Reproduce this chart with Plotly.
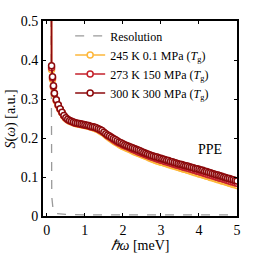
import plotly.graph_objects as go

# energy transfer grid (meV): a few points at the elastic line, then 0.05 meV steps
energy = [0.11, 0.125, 0.15, 0.175] + [round(0.2 + 0.05 * i, 2) for i in range(97)]

s_245 = [2.0, 0.375, 0.350, 0.330,
         .312, .295, .283, .273, .264, .256, .250, .246, .243, .241, .239, .237, .236, .235, .234, .233, .232,
         .231, .230, .228, .227, .225, .223, .221, .218, .215,
         .212, .208, .204, .200, .197, .193, .190, .187, .184, .181,
         .178, .176, .174, .172, .170, .167, .165, .163, .161, .159, .157, .155, .153, .151, .149, .147, .145, .143, .141, .140,
         .138, .137, .135, .134, .132, .131, .129, .128, .126, .125, .123, .122, .120, .119, .117, .116, .114, .113, .111, .110,
         .108, .107, .105, .104, .102, .101, .099, .098, .096, .095, .093, .092, .090, .089, .087, .086, .084, .083, .081, .080,
         .078]

s_273 = [2.0, 0.380, 0.354, 0.332,
         .314, .297, .284, .274, .265, .257, .251, .247, .244, .242, .240, .238, .237, .236, .235, .234, .233,
         .232, .231, .229, .228, .227, .225, .223, .220, .217,
         .214, .210, .206, .203, .200, .196, .193, .190, .187, .185,
         .182, .180, .178, .176, .174, .171, .169, .167, .165, .163, .161, .159, .157, .155, .153, .151, .150, .148, .146, .145,
         .143, .142, .140, .139, .137, .136, .134, .133, .131, .130, .128, .127, .125, .124, .123, .121, .120, .118, .117, .115,
         .114, .112, .111, .109, .108, .106, .105, .103, .102, .100, .099, .097, .096, .094, .093, .091, .090, .088, .087, .085,
         .084]

s_300 = [2.0, 0.385, 0.357, 0.334,
         .315, .298, .285, .275, .266, .258, .252, .248, .245, .243, .241, .239, .238, .237, .236, .235, .234,
         .233, .232, .230, .229, .228, .226, .224, .222, .219,
         .215, .211, .208, .205, .202, .199, .196, .193, .190, .188,
         .185, .183, .181, .179, .177, .175, .173, .171, .169, .167, .165, .163, .161, .159, .157, .155, .154, .152, .151, .149,
         .148, .146, .145, .143, .142, .140, .139, .137, .136, .134, .133, .132, .130, .129, .128, .126, .125, .124, .122, .121,
         .120, .118, .117, .115, .114, .112, .111, .109, .108, .106, .105, .103, .102, .100, .099, .097, .096, .094, .093, .091,
         .090]

res_energy = [0.1, 0.1, 0.13, 0.17, 0.25, 0.5, 1.0, 2.0, 3.0, 4.0, 5.0]
res_values = [3.0, 0.9, 0.05, 0.012, 0.006, 0.004, 0.003, 0.003, 0.003, 0.003, 0.003]

series = [
    ("245 K 0.1 MPa (<i>T</i><sub>g</sub>)", s_245, "#FDB73B"),
    ("273 K 150 MPa (<i>T</i><sub>g</sub>)", s_273, "#C4212B"),
    ("300 K 300 MPa (<i>T</i><sub>g</sub>)", s_300, "#8C0A0C"),
]

serif = "Liberation Serif, Times New Roman, serif"

fig = go.Figure()
fig.add_trace(go.Scatter(x=res_energy, y=res_values, mode="lines", name="Resolution",
                         line=dict(color="#9a9a9a", width=1.3, dash="dash")))
for name, vals, col in series:
    fig.add_trace(go.Scatter(x=energy, y=vals, mode="lines+markers", name=name,
                             line=dict(color=col, width=1.5),
                             marker=dict(symbol="circle", size=6, color="white",
                                         line=dict(color=col, width=1.5))))

fig.add_annotation(x=4.3, y=0.17, text="PPE", showarrow=False,
                   font=dict(family=serif, size=14, color="black"))
fig.add_annotation(xref="paper", yref="paper", x=-0.165, y=0.5, xanchor="center", yanchor="middle",
                   text="<i>S</i>(<i>ω</i>) [a.u.]", textangle=-90, showarrow=False,
                   font=dict(family=serif, size=14, color="black"))

axis_common = dict(showline=True, linecolor="black", linewidth=2, mirror="ticks",
                   ticks="inside", ticklen=3, tickcolor="black", tickwidth=1.2,
                   showgrid=False, zeroline=False,
                   tickfont=dict(family=serif, size=14, color="black"))

fig.update_layout(
    width=262, height=262,
    margin=dict(l=43, r=25, t=21, b=41),
    paper_bgcolor="white", plot_bgcolor="white",
    font=dict(family=serif, color="black"),
    xaxis=dict(range=[-0.1, 5], tickvals=[0, 1, 2, 3, 4, 5],
               title=dict(text="<i>ℏω</i> [meV]", font=dict(family=serif, size=14), standoff=2),
               **axis_common),
    yaxis=dict(range=[0, 0.5], tickvals=[0, 0.1, 0.2, 0.3, 0.4, 0.5],
               ticktext=["0", "0.1", "0.2", "0.3", "0.4", "0.5"],
               **axis_common),
    legend=dict(x=0.14, y=0.998, xanchor="left", yanchor="top",
                bgcolor="rgba(0,0,0,0)", font=dict(family=serif, size=12),
                itemwidth=30, tracegroupgap=0),
    showlegend=True,
)

fig.write_html("out.html", config={"displayModeBar": False},
               post_script="document.body.style.margin='0px';")
